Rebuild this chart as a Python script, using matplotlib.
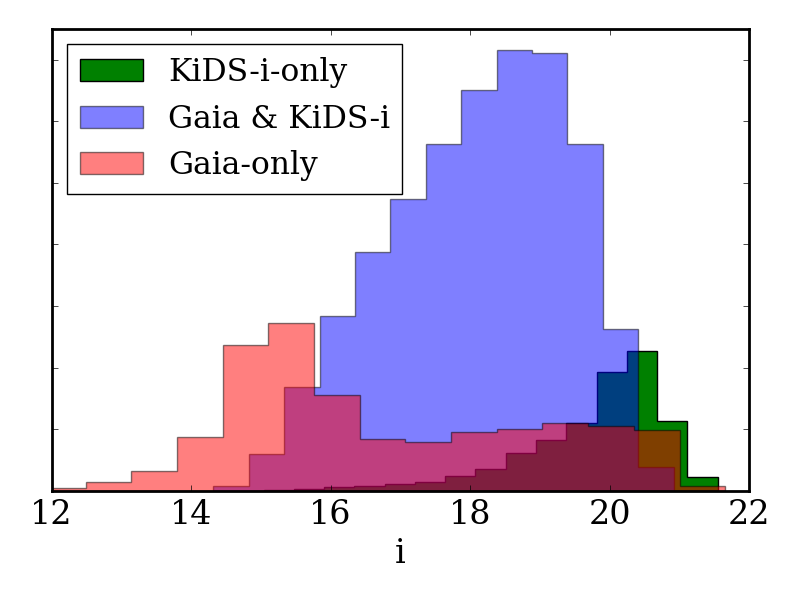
import numpy as np
import matplotlib
matplotlib.use("Agg")
from matplotlib import pyplot as plt

# bin edges (i magnitude) and bin heights for each sample
kids_edges = np.linspace(15.04, 21.55, 16)
kids_only = [0.01, 0.03, 0.06, 0.08, 0.11, 0.15, 0.24, 0.35, 0.62, 0.83,
             1.10, 1.93, 2.27, 1.14, 0.23]

both_edges = np.linspace(14.32, 20.92, 14)
gaia_kids = [0.07, 0.59, 1.68, 2.84, 3.87, 4.73, 5.63, 6.51, 7.15, 7.11,
             5.63, 2.62, 0.38]

gaia_edges = np.linspace(11.83, 21.66, 16)
gaia_only = [0.04, 0.14, 0.32, 0.87, 2.37, 2.73, 1.56, 0.84, 0.80, 0.96,
             1.01, 1.10, 1.05, 0.99, 0.08]

plt.style.use("classic")
plt.rcParams["font.family"] = "DejaVu Serif"
plt.rcParams["figure.facecolor"] = "white"

fig = plt.figure(figsize=(8, 6), dpi=100)
ax = fig.add_axes([0.0646, 0.182, 0.8716, 0.770])

ax.hist(kids_edges[:-1], bins=kids_edges, weights=kids_only,
        histtype="stepfilled", color="green", edgecolor="black",
        label="KiDS-i-only")
ax.hist(both_edges[:-1], bins=both_edges, weights=gaia_kids,
        histtype="stepfilled", color="blue", alpha=0.5,
        label="Gaia & KiDS-i")
ax.hist(gaia_edges[:-1], bins=gaia_edges, weights=gaia_only,
        histtype="stepfilled", color="red", alpha=0.5,
        label="Gaia-only")

ax.set_xlim(12, 22)
ax.set_ylim(0, 7.5)
ax.set_xticks([12, 14, 16, 18, 20, 22])
ax.set_yticks(np.arange(0, 8, 1))
ax.set_yticklabels([])
ax.tick_params(axis="x", labelsize=24, pad=6)
ax.set_xlabel("i", fontsize=24)
for s in ax.spines.values():
    s.set_linewidth(2)

ax.legend(loc="upper left", fontsize=22.6, fancybox=False,
          handlelength=2.0, borderaxespad=0.5)

fig.savefig("out.png", dpi=100, facecolor="white")
